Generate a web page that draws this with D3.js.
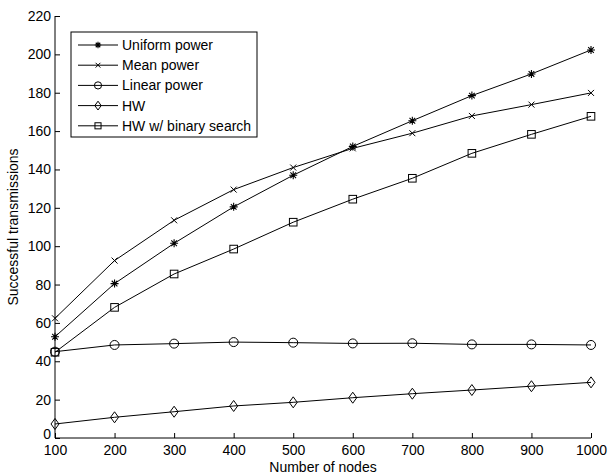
<!DOCTYPE html>
<html>
<head>
<meta charset="utf-8">
<script src="https://cdn.jsdelivr.net/npm/d3@7"></script>
<style>
  body { margin: 0; background: #fff; }
  text { font-family: "Liberation Sans", Arial, sans-serif; fill: #000; }
</style>
</head>
<body>
<svg id="chart" width="610" height="476"></svg>
<script>
// data
const nodes = [100, 200, 300, 400, 500, 600, 700, 800, 900, 1000];
const uniformPower = [52.8, 80.5, 101.5, 120.5, 137, 152, 165.4, 178.5, 189.8, 202.3];
const meanPower = [62.4, 92.5, 113.5, 129.5, 141, 151, 158.9, 167.9, 173.8, 179.9];
const linearPower = [45, 48.5, 49.2, 50, 49.7, 49.3, 49.4, 48.8, 48.8, 48.5];
const hw = [7.3, 10.8, 13.7, 16.7, 18.6, 21, 23.1, 25, 27, 29];
const hwBinary = [44.7, 68.1, 85.5, 98.5, 112.5, 124.5, 135.4, 148.4, 158.3, 167.7];
const seriesNames = ["Uniform power", "Mean power", "Linear power", "HW", "HW w/ binary search"];
const seriesMarkers = ["star", "cross", "circle", "diamond", "square"];
const xTicks = [100, 200, 300, 400, 500, 600, 700, 800, 900, 1000];
const yTicks = [0, 20, 40, 60, 80, 100, 120, 140, 160, 180, 200, 220];

const series = [uniformPower, meanPower, linearPower, hw, hwBinary];

const svg = d3.select("#chart");
const margin = { left: 55, right: 19, top: 16, bottom: 38 };
const W = 610, H = 476;

const x = d3.scaleLinear().domain([100, 1000]).range([margin.left, W - margin.right]);
const y = d3.scaleLinear().domain([0, 220]).range([H - margin.bottom, margin.top]);

// axes (MATLAB style, ticks pointing inward)
const xAxis = svg.append("g")
  .attr("transform", `translate(0,${y(0)})`)
  .call(d3.axisBottom(x).tickValues(xTicks).tickFormat(d3.format("d")).tickSize(-5).tickPadding(7));
const yAxis = svg.append("g")
  .attr("transform", `translate(${x(100)},0)`)
  .call(d3.axisLeft(y).tickValues(yTicks).tickFormat(d3.format("d")).tickSize(-5).tickPadding(4));

[xAxis, yAxis].forEach(a => {
  a.select(".domain").attr("stroke", "#000").attr("stroke-width", 1);
  a.selectAll(".tick line").attr("stroke", "#000");
  a.selectAll(".tick text").style("font-size", "14px").attr("font-family", null);
});
xAxis.select(".domain").attr("d", `M${x(100)},0H${x(1000)}`);
yAxis.select(".domain").attr("d", `M0,${y(0)}V${y(220)}`);
// nudge the "0" label up so it clears the "100" below
yAxis.selectAll(".tick").filter(d => d === 0).select("text").attr("dy", "0.04em");

svg.append("text")
  .attr("x", (x(100) + x(1000)) / 2)
  .attr("y", 471.5)
  .attr("text-anchor", "middle")
  .style("font-size", "14px")
  .text("Number of nodes");

svg.append("text")
  .attr("transform", `translate(18,${(y(0) + y(220)) / 2}) rotate(-90)`)
  .attr("text-anchor", "middle")
  .style("font-size", "14px")
  .text("Successful transmissions");

// marker drawing
function drawMarker(g, type, cx, cy, k = 1) {
  if (type === "star") {
    const s = 4 * k;
    const p = d3.path();
    for (let i = 0; i < 4; i++) {
      const a = i * Math.PI / 4;
      p.moveTo(cx - s * Math.cos(a), cy - s * Math.sin(a));
      p.lineTo(cx + s * Math.cos(a), cy + s * Math.sin(a));
    }
    g.append("path").attr("d", p.toString()).attr("stroke", "#000").attr("stroke-width", 1.1).attr("fill", "none");
  } else if (type === "cross") {
    const r = 3 * k;
    g.append("path")
      .attr("d", `M${cx - r},${cy - r}L${cx + r},${cy + r}M${cx - r},${cy + r}L${cx + r},${cy - r}`)
      .attr("stroke", "#000").attr("stroke-width", 1).attr("fill", "none");
  } else if (type === "circle") {
    g.append("circle").attr("cx", cx).attr("cy", cy).attr("r", 4.5 * k)
      .attr("stroke", "#000").attr("stroke-width", 1).attr("fill", "none");
  } else if (type === "diamond") {
    const rx = 4 * k, ry = 5.5 * k;
    g.append("path")
      .attr("d", `M${cx},${cy - ry}L${cx + rx},${cy}L${cx},${cy + ry}L${cx - rx},${cy}Z`)
      .attr("stroke", "#000").attr("stroke-width", 1).attr("fill", "none");
  } else if (type === "square") {
    const r = 3.8 * k;
    g.append("rect").attr("x", cx - r).attr("y", cy - r).attr("width", 2 * r).attr("height", 2 * r)
      .attr("stroke", "#000").attr("stroke-width", 1).attr("fill", "none");
  }
}

const line = d3.line().x((d, i) => x(nodes[i])).y(d => y(d));

series.forEach((vals, k) => {
  const g = svg.append("g");
  g.append("path").datum(vals).attr("d", line)
    .attr("fill", "none").attr("stroke", "#000").attr("stroke-width", 1);
  vals.forEach((v, i) => drawMarker(g, seriesMarkers[k], x(nodes[i]), y(v)));
});

// legend
const lg = svg.append("g");
const lx = 71, ly = 32, lw = 186, lh = 105;
lg.append("rect").attr("x", lx).attr("y", ly).attr("width", lw).attr("height", lh)
  .attr("fill", "#fff").attr("stroke", "#000").attr("stroke-width", 1);
seriesNames.forEach((name, k) => {
  const cy = ly + 13 + k * 20.2;
  lg.append("line").attr("x1", lx + 7).attr("x2", lx + 47).attr("y1", cy).attr("y2", cy)
    .attr("stroke", "#000").attr("stroke-width", 1);
  drawMarker(lg, seriesMarkers[k], lx + 27, cy, 0.8);
  lg.append("text").attr("x", lx + 51).attr("y", cy + 5)
    .style("font-size", "14px").text(name);
});
</script>
</body>
</html>
